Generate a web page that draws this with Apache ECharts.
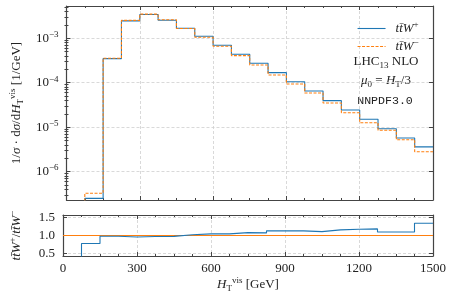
<!DOCTYPE html>
<html><head><meta charset="utf-8">
<script src="https://cdn.jsdelivr.net/npm/echarts@6/dist/echarts.min.js"></script>
<style>html,body{margin:0;padding:0;background:#fff}#c{width:454px;height:299px}</style>
</head><body><div id="c"></div>
<script>
// ---- data ----
const binEdges = [75,150,225,300,375,450,525,600,675,750,825,900,975,1050,1125,1200,1275,1350,1425,1500];
const wPlus  = [2.5e-7,3.48e-4,2.45e-3,3.4e-3,2.54e-3,1.68e-3,1.11e-3,6.95e-4,4.36e-4,2.74e-4,1.68e-4,1.05e-4,6.5e-5,3.94e-5,2.43e-5,1.5e-5,9.2e-6,5.7e-6,3.6e-6];
const wMinus = [3.26e-7,3.55e-4,2.52e-3,3.48e-3,2.6e-3,1.65e-3,1.05e-3,6.6e-4,4.06e-4,2.5e-4,1.49e-4,9.35e-5,5.86e-5,3.49e-5,2.11e-5,1.26e-5,8.5e-6,5.2e-6,2.8e-6];
const ratioPlus = [0.775,0.98,0.96,0.97,0.975,1.02,1.045,1.045,1.08,1.073,1.13,1.13,1.11,1.157,1.177,1.185,1.10,1.10,1.345];
const ratioMinus = [1,1];
const ratioMinusX = [0,1500];
const xTicks = [0,300,600,900,1200,1500];
const yMainTicks = [1e-6,1e-5,1e-4,1e-3];
const yRatioTicks = [0.5,1.0,1.5];
const nameP = 'tt\u0304W+';
const nameM = 'tt\u0304W\u2212';

// ---- helpers ----
const FONT = 'Liberation Serif';
const TXT = '#222';
const FRAME = '#444';
function stepData(vals, floor) {
  const d = [[binEdges[0], floor]];
  for (let i = 0; i < vals.length; i++) d.push([binEdges[i], vals[i]]);
  d.push([binEdges[binEdges.length - 1], vals[vals.length - 1]]);
  return d;
}
const yMinor = [];
for (let e = -7; e <= -3; e++) for (let m = 2; m <= 9; m++) yMinor.push(m * Math.pow(10, e));
const Y0MIN = 2.3e-7, Y0MAX = 5.3e-3;
const Y1MIN = 0.425, Y1MAX = 1.575;

const gridLine = {show: true, lineStyle: {color: '#cfcfcf', type: [3, 2], width: 0.8}};
const frame = {show: true, onZero: false, lineStyle: {color: FRAME, width: 1.2}};
function xAx(grid, pos, opts) {
  return Object.assign({
    type: 'value', gridIndex: grid, position: pos, min: 0, max: 1500, interval: 300,
    axisLine: frame,
    axisTick: {show: true, inside: true, length: 4, lineStyle: {color: FRAME}},
    minorTick: {show: true, splitNumber: 4, length: 2, lineStyle: {color: FRAME}},
    axisLabel: {show: false}, splitLine: {show: false}
  }, opts || {});
}
function yLog(pos, vals, len, opts) {
  return Object.assign({
    type: 'log', gridIndex: 0, position: pos, min: Y0MIN, max: Y0MAX, logBase: 10,
    axisLine: frame,
    axisTick: {show: true, inside: true, length: len, customValues: vals, lineStyle: {color: FRAME}},
    axisLabel: {show: false}, splitLine: {show: false}
  }, opts || {});
}
const supRich = {
  sup: {fontSize: 9, fontFamily: FONT, color: TXT, verticalAlign: 'top', lineHeight: 9},
  sub: {fontSize: 9, fontFamily: FONT, color: TXT, verticalAlign: 'bottom', lineHeight: 9},
  i: {fontStyle: 'italic', fontSize: 13, fontFamily: FONT, color: TXT, lineHeight: 17},
  n: {fontSize: 13, fontFamily: FONT, color: TXT, lineHeight: 17}
};
function ttw(sign) { return '{i|tt\u0304W}{sup|' + sign + '}'; }

const chart = echarts.init(document.getElementById('c'), null, {renderer: 'canvas'});
chart.setOption({
  backgroundColor: '#fff',
  animation: false,
  grid: [
    {left: 59, top: 6, width: 374, height: 194},
    {left: 59, top: 215, width: 374, height: 41}
  ],
  xAxis: [
    xAx(0, 'bottom', {splitLine: gridLine}),
    xAx(0, 'top'),
    xAx(1, 'bottom', {
      splitLine: gridLine,
      axisLabel: {show: true, margin: 6, fontFamily: FONT, fontSize: 13, color: TXT, customValues: xTicks, formatter: v => String(v)},
      name: '{i|H}{sub|T}{sup|vis} {n|[GeV]}', nameLocation: 'middle', nameGap: 19,
      nameTextStyle: {fontFamily: FONT, fontSize: 13, color: TXT, rich: supRich}
    }),
    xAx(1, 'top')
  ],
  yAxis: [
    yLog('left', yMainTicks, 4, {
      splitLine: gridLine,
      axisLabel: {show: true, margin: 8, customValues: yMainTicks, fontFamily: FONT, fontSize: 13, color: TXT,
        formatter: v => '{n|10}{sup|\u2212' + Math.round(-Math.log10(v)) + '}',
        rich: {n: {fontSize: 13, fontFamily: FONT, color: TXT, lineHeight: 16}, sup: {fontSize: 9, fontFamily: FONT, color: TXT, verticalAlign: 'top', lineHeight: 9}}},
      name: '{n|1/}{i|σ}{n| · d}{i|σ}{n|/d}{i|H}{sub|T}{sup|vis}{n| [1/GeV]}', nameLocation: 'middle', nameGap: 37, nameRotate: 90,
      nameTextStyle: {fontFamily: FONT, fontSize: 13, color: TXT, rich: supRich}
    }),
    yLog('left', yMinor, 2, {axisLine: {show: false}}),
    yLog('right', yMainTicks, 4),
    yLog('right', yMinor, 2, {axisLine: {show: false}}),
    {
      type: 'value', gridIndex: 1, position: 'left', min: Y1MIN, max: Y1MAX,
      axisLine: frame,
      axisTick: {show: true, inside: true, length: 4, customValues: yRatioTicks, lineStyle: {color: FRAME}},
      axisLabel: {show: true, margin: 8, customValues: yRatioTicks, fontFamily: FONT, fontSize: 13, color: TXT, formatter: v => v.toFixed(1)},
      splitLine: gridLine,
      name: ttw('+') + '{n|/}' + ttw('\u2212'), nameLocation: 'middle', nameGap: 38, nameRotate: 90,
      nameTextStyle: {fontFamily: FONT, fontSize: 13, color: TXT, rich: supRich}
    },
    {
      type: 'value', gridIndex: 1, position: 'right', min: Y1MIN, max: Y1MAX,
      axisLine: frame,
      axisTick: {show: true, inside: true, length: 4, customValues: yRatioTicks, lineStyle: {color: FRAME}},
      axisLabel: {show: false}, splitLine: {show: false}
    }
  ],
  legend: {
    data: [nameP, nameM], orient: 'vertical', left: 352, top: 15,
    itemWidth: 28, itemHeight: 10, itemGap: 3,
    itemStyle: {opacity: 0},
    lineStyle: {width: 1.1},
    formatter: n => n === nameP ? ttw('+') : ttw('\u2212'),
    textStyle: {fontFamily: FONT, fontSize: 13, color: TXT, padding: [0, 0, 0, 5], rich: supRich}
  },
  graphic: [
    {type: 'text', x: 386, y: 62, style: {text: '{n|LHC}{sub|13}{n| NLO}', align: 'center', verticalAlign: 'middle', rich: supRich, fontFamily: FONT, fontSize: 13, fill: TXT}},
    {type: 'text', x: 386, y: 81, style: {text: '{i|μ}{sub|0}{n| = }{i|H}{sub|T}{n|/3}', align: 'center', verticalAlign: 'middle', rich: supRich, fontFamily: FONT, fontSize: 13, fill: TXT}},
    {type: 'text', x: 385, y: 101, style: {text: 'NNPDF3.0', align: 'center', verticalAlign: 'middle', fontFamily: 'Liberation Mono', fontSize: 11.6, fill: TXT}}
  ],
  series: [
    {name: nameP, type: 'line', xAxisIndex: 0, yAxisIndex: 0, step: 'end', symbol: 'none',
      data: stepData(wPlus, 1e-9), color: '#1f77b4', lineStyle: {color: '#1f77b4', width: 1.1}, z: 3},
    {name: nameM, type: 'line', xAxisIndex: 0, yAxisIndex: 0, step: 'end', symbol: 'none',
      data: stepData(wMinus, 1e-9), color: '#ff7f0e', lineStyle: {color: '#ff7f0e', width: 1.1, type: [3, 1.5]}, z: 4},
    {name: 'ratioM', type: 'line', xAxisIndex: 2, yAxisIndex: 4, symbol: 'none',
      data: ratioMinusX.map((x, i) => [x, ratioMinus[i]]), lineStyle: {color: '#ff7f0e', width: 1.1}, z: 3},
    {name: 'ratioP', type: 'line', xAxisIndex: 2, yAxisIndex: 4, step: 'end', symbol: 'none',
      data: stepData(ratioPlus, 0), lineStyle: {color: '#1f77b4', width: 1.1}, z: 4}
  ]
});
</script></body></html>
